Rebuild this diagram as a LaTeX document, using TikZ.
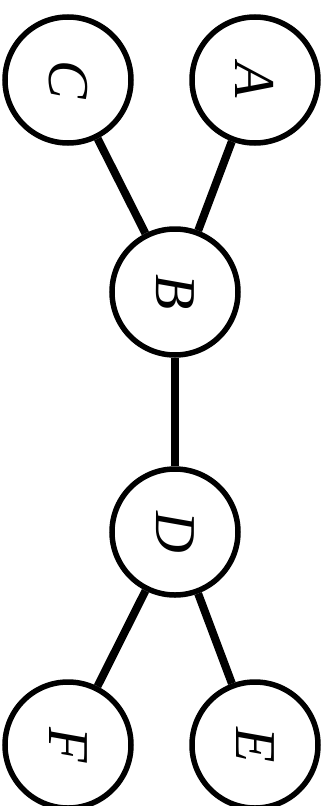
\documentclass[tikz,border=0pt]{standalone}
\usepackage{fontspec}
\newfontfamily\labfont{Liberation Serif}[UprightFont={* Italic}]
\begin{document}
\begin{tikzpicture}[x=1bp,y=-1bp,
  vert/.style={circle,draw=black,line width=5.5bp,minimum size=126bp,inner sep=0pt,rotate=-90,
    font=\labfont\fontsize{58}{60}\selectfont},
  edge/.style={line width=8bp}]
\useasboundingbox (0,0) rectangle (328,806);
\node[vert] (A) at (255,80) {A};
\node[vert] (C) at (68,80) {C};
\node[vert] (B) at (175,292) {B};
\node[vert] (D) at (175,532) {D};
\node[vert] (F) at (68,745) {F};
\node[vert] (E) at (255,745) {E};
\draw[edge] (A) -- (B);
\draw[edge] (C) -- (B);
\draw[edge] (B) -- (D);
\draw[edge] (D) -- (F);
\draw[edge] (D) -- (E);
\end{tikzpicture}
\end{document}
